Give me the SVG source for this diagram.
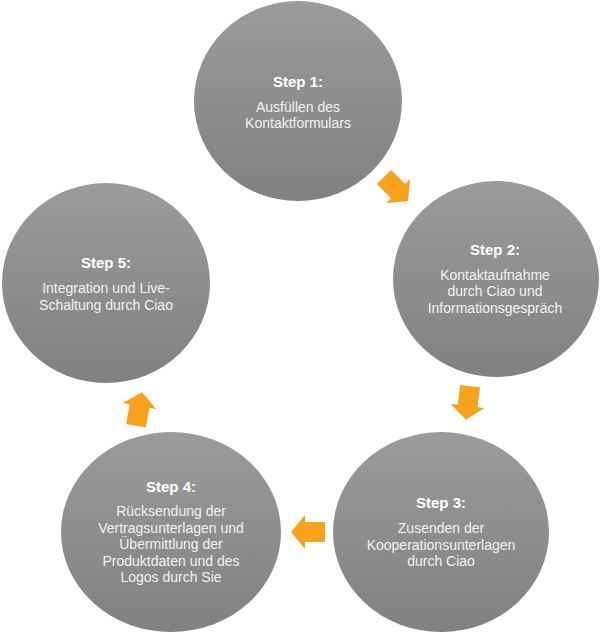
<svg xmlns="http://www.w3.org/2000/svg" width="600" height="644" viewBox="0 0 600 644">
<style>
.c{fill:url(#g);}
.t{font-family:"Liberation Sans",Arial,sans-serif;font-size:15px;font-weight:bold;fill:#ffffff;text-anchor:middle;}
.b{font-family:"Liberation Sans",Arial,sans-serif;font-size:14px;fill:#f2f2f2;text-anchor:middle;}
.a{fill:#F8A11D;}
</style>
<defs>
<linearGradient id="g" x1="0" y1="0" x2="0" y2="1">
<stop offset="0" stop-color="#9b9b9b"/>
<stop offset="1" stop-color="#818181"/>
</linearGradient>
<path id="arr" d="M-17,-10 H3 V-17 L17,0 L3,17 V10 H-17 Z"/>
</defs>
<rect width="600" height="644" fill="#ffffff"/>
<g id="connectors">
<use href="#arr" class="a" transform="translate(396,189) rotate(45)"/>
<use href="#arr" class="a" transform="translate(468,403) rotate(97)"/>
<use href="#arr" class="a" transform="translate(308,532) rotate(180)"/>
<use href="#arr" class="a" transform="translate(139,409) rotate(-80)"/>
</g>
<g id="step1">
<ellipse class="c" cx="298" cy="101" rx="104" ry="100"/>
<text class="t" x="298" y="87">Step 1:</text>
<text class="b" x="298" y="112">Ausfüllen des</text>
<text class="b" x="298" y="128">Kontaktformulars</text>
</g>
<g id="step2">
<ellipse class="c" cx="496" cy="279" rx="103" ry="98"/>
<text class="t" x="495" y="255">Step 2:</text>
<text class="b" x="495" y="280">Kontaktaufnahme</text>
<text class="b" x="495" y="296">durch Ciao und</text>
<text class="b" x="495" y="313">Informationsgespräch</text>
</g>
<g id="step3">
<ellipse class="c" cx="441" cy="532" rx="108" ry="100"/>
<text class="t" x="441" y="508">Step 3:</text>
<text class="b" x="441" y="533">Zusenden der</text>
<text class="b" x="441" y="550">Kooperationsunterlagen</text>
<text class="b" x="441" y="566">durch Ciao</text>
</g>
<g id="step4">
<ellipse class="c" cx="171" cy="532" rx="110" ry="100"/>
<text class="t" x="171" y="492">Step 4:</text>
<text class="b" x="171" y="516">Rücksendung der</text>
<text class="b" x="171" y="533">Vertragsunterlagen und</text>
<text class="b" x="171" y="549">Übermittlung der</text>
<text class="b" x="171" y="566">Produktdaten und des</text>
<text class="b" x="171" y="582">Logos durch Sie</text>
</g>
<g id="step5">
<ellipse class="c" cx="106" cy="283" rx="104" ry="100"/>
<text class="t" x="106" y="268">Step 5:</text>
<text class="b" x="106" y="293">Integration und Live-</text>
<text class="b" x="106" y="310">Schaltung durch Ciao</text>
</g>
</svg>
